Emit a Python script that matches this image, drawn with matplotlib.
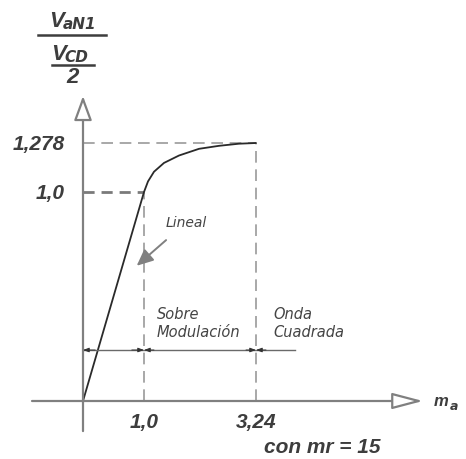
import matplotlib.pyplot as plt
import numpy as np

# curve V_aN1 / (Vcd/2) versus ma (mr = 15)
ma_curve = [0.0, 1.0, 1.08, 1.2, 1.4, 1.7, 2.1, 2.5, 2.9, 3.24]
v_curve = [0.0, 1.0, 1.06, 1.115, 1.165, 1.207, 1.245, 1.262, 1.274, 1.278]

ma_marks = [1.0, 3.24]
ma_labels = ['1,0', '3,24']
v_marks = [1.0, 1.278]
v_labels = ['1,0', '1,278']

region_names = ['Lineal', 'Sobre\nModulación', 'Onda\nCuadrada']
mr = 15

# schematic (piecewise linear) axes: each zone gets its own stretch
xk = [-3.0, 0.0, 1.0, 3.24, 10.0]
xp = [-100.0, 83.0, 144.0, 256.0, 594.0]
yk = [-2.0, 0.0, 1.0, 1.278, 3.0]
yp = [-360.0, 58.0, 267.0, 316.0, 616.0]

def fx(x):
    return np.interp(x, xk, xp)

def ix(p):
    return np.interp(p, xp, xk)

def fy(y):
    return np.interp(y, yk, yp)

def iy(p):
    return np.interp(p, yp, yk)

txt = '#3d3d3d'
grey = '#808080'
bold = dict(family='Liberation Sans', weight='bold', style='italic', color=txt)
sub = dict(family='DejaVu Sans', weight='bold', style='italic', color=txt)
thin = dict(family='DejaVu Sans', style='italic', color='#444444')

fig = plt.figure(figsize=(4.66, 4.6), dpi=100)
ax = fig.add_axes([0, 0, 1, 1])
ax.set_xscale('function', functions=(fx, ix))
ax.set_yscale('function', functions=(fy, iy))
ax.set_xlim(ix(0), ix(466))
ax.set_ylim(iy(0), iy(460))
ax.axis('off')

# axes with open arrow heads
ax.annotate('', xy=(6.58, 0), xytext=(-0.836, 0),
            arrowprops=dict(arrowstyle='-|>,head_length=1.9,head_width=0.5', mutation_scale=10,
                            fc='white', ec=grey, lw=1.6, shrinkA=0, shrinkB=0))
ax.annotate('', xy=(0, 1.548), xytext=(0, -0.144),
            arrowprops=dict(arrowstyle='-|>,head_length=1.5,head_width=0.55', mutation_scale=10,
                            fc='white', ec=grey, lw=1.6, shrinkA=0, shrinkB=0))

# guide lines
ax.plot([0, ma_marks[0]], [v_marks[0]] * 2, color='#7a7a7a', lw=2.0, dashes=(4, 2.5))
ax.plot([0, ma_marks[1]], [v_marks[1]] * 2, color='#9a9a9a', lw=1.2, dashes=(7, 4))
ax.plot([ma_marks[0]] * 2, [0, v_marks[0]], color='#9a9a9a', lw=1.2, dashes=(7, 4))
ax.plot([ma_marks[1]] * 2, [0, v_marks[1]], color='#9a9a9a', lw=1.2, dashes=(7, 4))

# characteristic
ax.plot(ma_curve, v_curve, color='#2a2a2a', lw=1.3, solid_capstyle='round')

# zone divider line, small heads pointing at each zone boundary
yz = 0.244
ax.plot([0, 4.02], [yz, yz], color='#6a6a6a', lw=1.0)
small = dict(arrowstyle='-|>,head_length=0.35,head_width=0.13', mutation_scale=10,
             color='#333333', lw=0.7, shrinkA=0, shrinkB=0)
for edge, side in [(0.0, 0.2), (ma_marks[0], -0.2), (ma_marks[0], 0.2),
                   (ma_marks[1], -0.2), (ma_marks[1], 0.2)]:
    ax.annotate('', xy=(edge, yz), xytext=(edge + side, yz), arrowprops=small)

# zone names
ax.annotate(region_names[0], xy=(0.88, 0.647), xytext=(1.854, 0.856),
            ha='center', va='center', fontsize=10, **thin,
            arrowprops=dict(arrowstyle='-|>,head_length=1.0,head_width=0.45', mutation_scale=10,
                            color=grey, lw=1.4, shrinkA=9, shrinkB=0))
ax.text(1.25, 0.376, region_names[1], ha='left', va='center', linespacing=1.3,
        fontsize=10.5, **thin)
ax.text(3.58, 0.376, region_names[2], ha='left', va='center', linespacing=1.3,
        fontsize=10.5, **thin)

# tick labels
for v, s in zip(v_marks, v_labels):
    ax.text(-0.3, v, s, ha='right', va='center', fontsize=15, **bold)
for m, s in zip(ma_marks, ma_labels):
    ax.text(m, -0.096, s, ha='center', va='center', fontsize=15, **bold)
ax.text(3.4, -0.22, 'con mr = %d' % mr, ha='left', va='center', fontsize=15, **bold)

# axis names
ax.text(6.8, 0.0, 'm', ha='left', va='center', fontsize=12, **bold)
ax.text(7.12, -0.02, 'a', ha='left', va='center', fontsize=9, **sub)

ax.text(-0.56, 1.981, 'V', ha='left', va='center', fontsize=16, **bold)
ax.text(-0.33, 1.962, 'aN1', ha='left', va='center', fontsize=11, **sub)
ax.plot([-0.738, 0.377], [1.899, 1.899], color=txt, lw=1.8, clip_on=False)
ax.text(-0.53, 1.789, 'V', ha='left', va='center', fontsize=16, **bold)
ax.text(-0.3, 1.772, 'CD', ha='left', va='center', fontsize=11, **sub)
ax.plot([-0.508, 0.18], [1.728, 1.728], color=txt, lw=1.8, clip_on=False)
ax.text(-0.164, 1.657, '2', ha='center', va='center', fontsize=16, **bold)

plt.savefig('out.png', dpi=100)
